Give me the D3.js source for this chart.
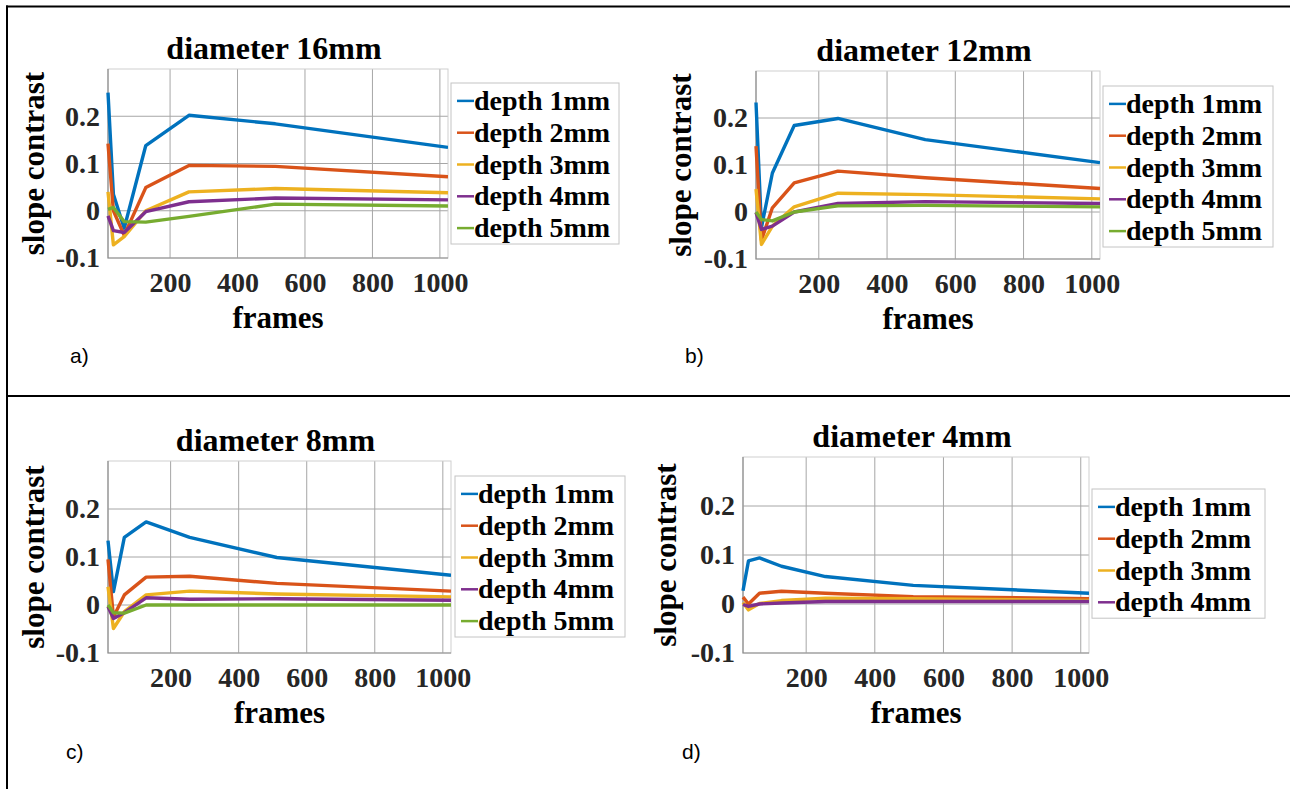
<!DOCTYPE html>
<html lang="en">
<head>
  <meta charset="UTF-8" />
  <title>slope contrast vs frames</title>
  <script src="https://d3js.org/d3.v7.min.js"></script>
  <style>
    body { margin: 0; padding: 0; background: #fff; }
    svg { display: block; }
    .ttl, .lbl, .leg { font-family: "Liberation Serif", "Times New Roman", serif; font-weight: bold; fill: #000; }
    .tag { font-family: "Liberation Sans", Arial, sans-serif; font-size: 21px; fill: #000; }
  </style>
</head>
<body>
  <svg width="1290" height="789"></svg>

  <script>
    // data
    const frames = [16, 32, 64, 128, 256, 512, 1024];
    const depthLabels = ["depth 1mm", "depth 2mm", "depth 3mm", "depth 4mm", "depth 5mm"];
    const titles = ["diameter 16mm", "diameter 12mm", "diameter 8mm", "diameter 4mm"];
    const tags = ["a)", "b)", "c)", "d)"];
    const xTicks = [200, 400, 600, 800, 1000];
    const yTicks = [-0.1, 0, 0.1, 0.2];

    const dia16 = [
      [0.25, 0.035, -0.037, 0.138, 0.202, 0.184, 0.134],
      [0.142, 0.0, -0.052, 0.049, 0.096, 0.094, 0.072],
      [0.04, -0.072, -0.055, 0.0, 0.04, 0.047, 0.038],
      [-0.011, -0.042, -0.046, -0.002, 0.019, 0.027, 0.023],
      [0.003, 0.007, -0.023, -0.024, -0.012, 0.014, 0.01]
    ];
    const dia12 = [
      [0.233, -0.033, 0.083, 0.184, 0.199, 0.154, 0.105],
      [0.14, -0.06, 0.009, 0.062, 0.087, 0.073, 0.05],
      [0.049, -0.069, -0.03, 0.011, 0.04, 0.037, 0.028],
      [-0.001, -0.037, -0.03, 0.0, 0.018, 0.022, 0.018],
      [0.0, -0.016, -0.019, 0.0, 0.013, 0.014, 0.011]
    ];
    const dia8 = [
      [0.134, 0.028, 0.141, 0.173, 0.141, 0.099, 0.062],
      [0.095, -0.025, 0.021, 0.058, 0.06, 0.045, 0.029],
      [0.038, -0.049, -0.014, 0.021, 0.029, 0.023, 0.017],
      [-0.003, -0.028, -0.016, 0.015, 0.012, 0.013, 0.01],
      [0.0, -0.016, -0.017, 0.0, 0.0, 0.0, 0.0]
    ];
    const dia4 = [
      [0.027, 0.088, 0.094, 0.077, 0.056, 0.038, 0.022],
      [0.014, 0.0, 0.022, 0.026, 0.022, 0.015, 0.011],
      [0.003, -0.012, 0.001, 0.007, 0.012, 0.011, 0.007],
      [-0.001, -0.005, 0.0, 0.002, 0.005, 0.005, 0.005]
    ];
    const allSeries = [dia16, dia12, dia8, dia4];

    const colors = ["#0072BD", "#D95319", "#EDB120", "#7E2F8E", "#77AC30"];
    const serif = "'Liberation Serif', 'Times New Roman', serif";

    // where each panel sits on the page
    const boxes = [
      { l: 108, r: 448, t: 69, b: 258, legX: 451, legY: 83, legW: 168, tagX: 70, tagY: 363, labX: 44 },
      { l: 756, r: 1100, t: 71, b: 259, legX: 1103, legY: 86, legW: 170, tagX: 685, tagY: 363, labX: 691 },
      { l: 108, r: 451, t: 461, b: 653, legX: 455, legY: 476, legW: 170, tagX: 66, tagY: 759, labX: 44 },
      { l: 743, r: 1089, t: 457, b: 653, legX: 1092, legY: 489, legW: 173, tagX: 682, tagY: 759, labX: 676 }
    ];

    const svg = d3.select("svg");

    // outer frame
    svg.append("line").attr("x1", 6).attr("x2", 1290).attr("y1", 6.5).attr("y2", 6.5)
      .attr("stroke", "#000").attr("stroke-width", 2);
    svg.append("line").attr("x1", 6).attr("x2", 1290).attr("y1", 396).attr("y2", 396)
      .attr("stroke", "#000").attr("stroke-width", 2);
    svg.append("line").attr("x1", 7).attr("x2", 7).attr("y1", 5.5).attr("y2", 789)
      .attr("stroke", "#000").attr("stroke-width", 2);

    boxes.forEach((bx, i) => {
      const x = d3.scaleLinear().domain([16, 1024]).range([bx.l, bx.r]);
      const y = d3.scaleLinear().domain([-0.1, 0.3]).range([bx.b, bx.t]);
      const g = svg.append("g");

      g.append("rect")
        .attr("x", bx.l).attr("y", bx.t)
        .attr("width", bx.r - bx.l).attr("height", bx.b - bx.t)
        .attr("fill", "#fff");

      // grid
      g.selectAll(".vg").data(xTicks).enter().append("line")
        .attr("x1", d => x(d)).attr("x2", d => x(d))
        .attr("y1", bx.t).attr("y2", bx.b)
        .attr("stroke", "#a6a6a6").attr("stroke-width", 1);
      g.selectAll(".hg").data(yTicks.slice(1)).enter().append("line")
        .attr("x1", bx.l).attr("x2", bx.r)
        .attr("y1", d => y(d)).attr("y2", d => y(d))
        .attr("stroke", "#a6a6a6").attr("stroke-width", 1);

      // box
      g.append("rect")
        .attr("x", bx.l).attr("y", bx.t)
        .attr("width", bx.r - bx.l).attr("height", bx.b - bx.t)
        .attr("fill", "none").attr("stroke", "#cfcfcf");
      g.append("path")
        .attr("d", `M${bx.l},${bx.t}V${bx.b}H${bx.r}`)
        .attr("fill", "none").attr("stroke", "#8a8a8a").attr("stroke-width", 1.2);

      // axes
      const xa = g.append("g").attr("transform", `translate(0,${bx.b})`)
        .call(d3.axisBottom(x).tickValues(xTicks).tickSize(0).tickPadding(14).tickFormat(d3.format("d")));
      const ya = g.append("g").attr("transform", `translate(${bx.l},0)`)
        .call(d3.axisLeft(y).tickValues(yTicks).tickSize(0).tickPadding(8)
          .tickFormat(d => d === 0 ? "0" : String(d)));
      [xa, ya].forEach(a => {
        a.select(".domain").remove();
        a.attr("font-family", serif).attr("font-size", 28).attr("font-weight", "bold");
        a.selectAll("text").attr("fill", "#262626");
      });

      // lines
      const clipId = "clip" + i;
      svg.append("clipPath").attr("id", clipId).append("rect")
        .attr("x", bx.l - 2).attr("y", bx.t).attr("width", bx.r - bx.l + 2).attr("height", bx.b - bx.t);
      const line = d3.line().x((d, k) => x(frames[k])).y(d => y(d));
      const series = allSeries[i];
      g.append("g").attr("clip-path", `url(#${clipId})`)
        .selectAll("path").data(series).enter().append("path")
        .attr("d", d => line(d))
        .attr("fill", "none")
        .attr("stroke", (d, k) => colors[k])
        .attr("stroke-width", 3.4)
        .attr("stroke-linejoin", "round");

      // title and labels
      g.append("text").attr("class", "ttl")
        .attr("x", (bx.l + bx.r) / 2 - 4).attr("y", bx.t - 10)
        .attr("text-anchor", "middle").attr("font-size", 32)
        .text(titles[i]);
      g.append("text").attr("class", "lbl")
        .attr("x", (bx.l + bx.r) / 2).attr("y", bx.b + 70)
        .attr("text-anchor", "middle").attr("font-size", 31)
        .text("frames");
      g.append("text").attr("class", "lbl")
        .attr("transform", `translate(${bx.labX},${(bx.t + bx.b) / 2}) rotate(-90)`)
        .attr("text-anchor", "middle").attr("font-size", 31)
        .text("slope contrast");
      g.append("text").attr("class", "tag")
        .attr("x", bx.tagX).attr("y", bx.tagY)
        .text(tags[i]);

      // legend
      const rowH = 31.8;
      const legH = series.length * rowH + 2;
      const leg = g.append("g").attr("transform", `translate(${bx.legX},${bx.legY})`);
      leg.append("rect")
        .attr("width", bx.legW).attr("height", legH)
        .attr("fill", "#fff").attr("stroke", "#c4c4c4");
      const rows = leg.selectAll(".row").data(series).enter().append("g")
        .attr("transform", (d, k) => `translate(0,${1 + rowH * (k + 0.5) + 1})`);
      rows.append("line")
        .attr("x1", 6).attr("x2", 23).attr("y1", 0).attr("y2", 0)
        .attr("stroke", (d, k) => colors[k]).attr("stroke-width", 2.5);
      rows.append("text").attr("class", "leg")
        .attr("x", 23).attr("y", 9).attr("font-size", 28)
        .text((d, k) => depthLabels[k]);
    });
  </script>
</body>
</html>
